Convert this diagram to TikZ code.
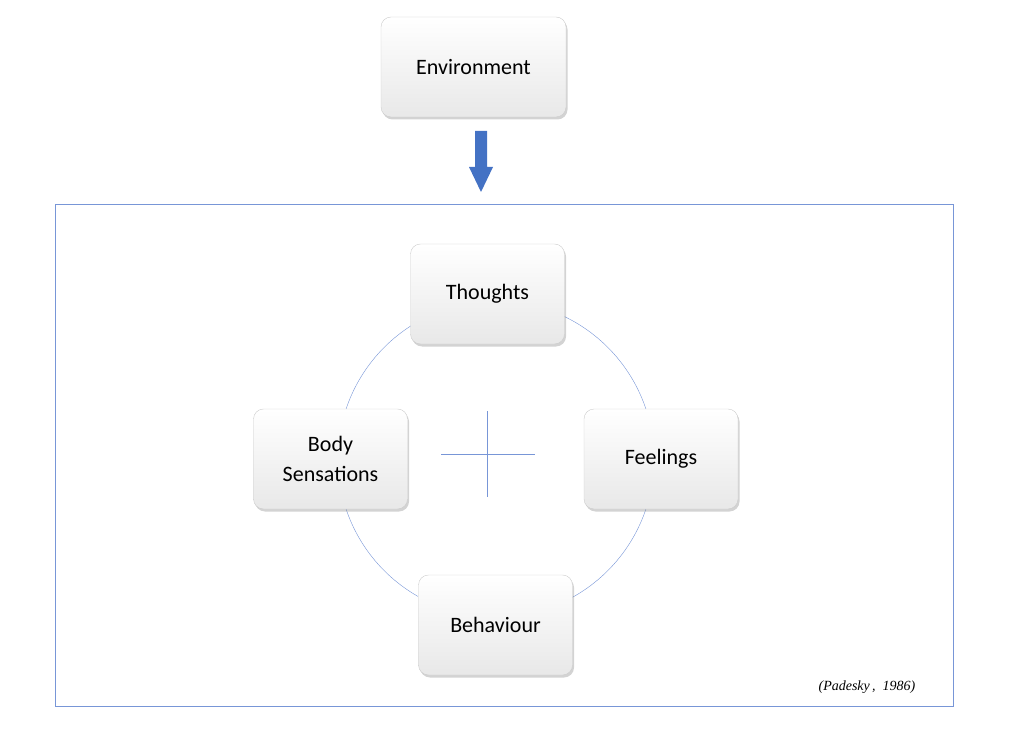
\documentclass[tikz,border=0pt]{standalone}
\usepackage{fontspec}
\setmainfont{Carlito}
\newfontfamily\citefont{Liberation Serif}
\usetikzlibrary{shadows}
\definecolor{lb}{RGB}{120,150,215}
\definecolor{ab}{RGB}{68,114,196}
\begin{document}
\begin{tikzpicture}[x=1pt,y=-1pt,
 box/.style={draw=gray!40,rounded corners=10pt,top color=white,bottom color=gray!18,
   drop shadow={shadow xshift=1.5pt,shadow yshift=-2.5pt,opacity=0.35},
   minimum width=154pt,minimum height=100pt,align=center,font=\fontsize{22}{30}\selectfont,inner sep=2pt}]
\useasboundingbox (0,0) rectangle (1023,730);
\draw[lb] (55,204) rectangle (953,706);
\draw[lb] (496,459) circle (158);
\draw[lb] (441,454) -- (535,454);
\draw[lb] (487,411) -- (487,497);
\node[box,minimum width=185pt] (env) at (473.5,67) {Environment};
\node[box] (th) at (487.5,294) {Thoughts};
\node[box] (fe) at (661,459) {Feelings};
\node[box] (bo) at (330.5,459) {Body\\Sensations};
\node[box] (be) at (495.5,625) {Behaviour};
\fill[ab] (475,131) -- (487,131) -- (487,167) -- (493,167) -- (481,192) -- (469,167) -- (475,167) -- cycle;
\node[font=\citefont\itshape\fontsize{14}{16}\selectfont] (cit) at (867,687) {(Padesky\,, \ 1986)};
\end{tikzpicture}
\end{document}
